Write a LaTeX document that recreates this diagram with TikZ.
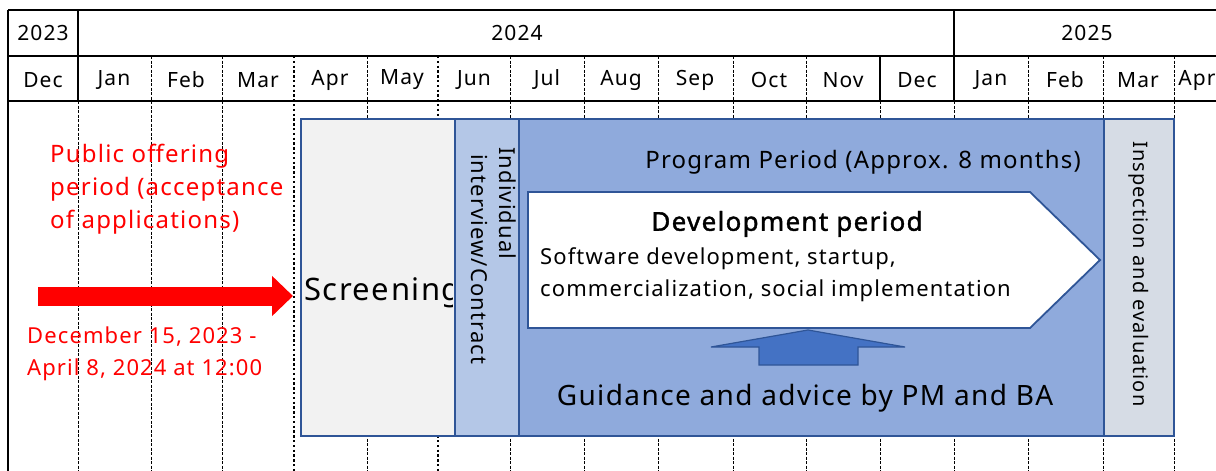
\documentclass[tikz,border=0pt]{standalone}
\usepackage{fontspec}
\setmainfont{Noto Sans}[LetterSpace=5]
\newfontfamily\fakebf{Noto Sans}[FakeBold=1.5,LetterSpace=5]
\usetikzlibrary{arrows.meta,positioning}
\definecolor{bordblue}{HTML}{2F5597}
\definecolor{scrfill}{HTML}{F2F2F2}
\definecolor{intfill}{HTML}{B4C7E7}
\definecolor{progfill}{HTML}{8FAADC}
\definecolor{inspfill}{HTML}{D6DCE5}
\definecolor{arrfill}{HTML}{4472C4}
\newcommand{\fsz}[1]{\fontsize{#1}{#1}\selectfont}

\begin{document}
\begin{tikzpicture}[x=1pt,y=-1pt,
  grid/.style={line width=1.8pt},
  mdash/.style={line width=0.8pt, dash pattern=on 3pt off 1.5pt},
  mdot/.style={line width=2.4pt, dash pattern=on 2.4pt off 2.4pt},
  phase/.style={draw=bordblue, line width=1.8pt, anchor=north west, inner sep=0pt, minimum height=317pt},
  hd/.style={font=\fsz{21}, inner sep=0pt},
  redtxt/.style={red, align=left, anchor=north west, inner sep=0pt}]
\clip (0,0) rectangle (1216,471);
% calendar grid
\foreach \x in {78,151,222,367,510,584,658,733,806,880,954,1028,1103,1174} \draw[mdash] (\x,101) -- (\x,471);
\foreach \x in {151,222,367,510,584,658,733,806,1028,1103,1174} \draw[mdash] (\x,56) -- (\x,101);
\foreach \x in {294,438} \draw[mdot] (\x,56) -- (\x,471);
\draw[grid] (78,10) -- (78,101) (880,56) -- (880,101) (954,10) -- (954,101) (8,10) -- (8,471);
\foreach \y in {10,56,101} \draw[grid] (8,\y) -- (1216,\y);
\node[hd] (y23) at (43,33) {2023};
\node[hd] (y24) at (517,33) {2024};
\node[hd] (y25) at (1087,33) {2025};
\foreach \x/\m [count=\i] in {43/Dec,114/Jan,186/Feb,258/Mar,330/Apr,402/May,474/Jun,547/Jul,621/Aug,695/Sep,769/Oct,843/Nov,917/Dec,991/Jan,1065/Feb,1138/Mar,1197/Apr}
  \node[hd] (m\i) at (\x,80) {\m};
% phases
\node[phase, fill=scrfill, minimum width=154pt] (scr) at (300,118) {};
\node[phase, fill=intfill, minimum width=64pt] (intv) at (454,118) {};
\node[phase, fill=progfill, minimum width=585pt] (prog) at (518,118) {};
\node[phase, fill=inspfill, minimum width=70pt] (insp) at (1103,118) {};
\begin{scope}
  \clip (301,119) rectangle (452,434);
  \node[anchor=west, font=\fsz{31}, inner sep=0pt] (scrtxt) at (304,293) {Screening};
\end{scope}
\node[rotate=-90, anchor=north west, align=left, font=\fontsize{22}{28}\selectfont, inner sep=0pt] (intvtxt) at (516,147) {Individual\\\hspace*{7pt}interview/Contract};
\node[rotate=-90, font=\fsz{20}, inner sep=0pt] (insptxt) at (1139,274) {Inspection and evaluation};
\node[font=\fsz{24}, inner sep=0pt] (progtxt) at (863,162) {Program Period (Approx. 8 months)};
% development arrow
\draw[fill=white, draw=bordblue, line width=1.8pt] (528,192) -- (1030,192) -- (1100,260) -- (1030,328) -- (528,328) -- cycle;
\node[font=\fakebf\fsz{26}, inner sep=0pt] (devtitle) at (787,224) {Development period};
\node[anchor=north west, align=left, font=\fontsize{22}{32}\selectfont, inner sep=0pt] (devtxt) at (540,247) {Software development, startup,\\commercialization, social implementation};
\draw[fill=arrfill, draw=bordblue, line width=1.2pt] (759,365) -- (759,347) -- (711,347) -- (808,330) -- (905,347) -- (858,347) -- (858,365) -- cycle;
\node[font=\fsz{28}, inner sep=0pt] (guide) at (805,398) {Guidance and advice by PM and BA};
% public offering
\node[redtxt, font=\fontsize{24}{33}\selectfont] (offer) at (50,144) {Public offering\\period (acceptance\\of applications)};
\coordinate (arrS) at (38,296);
\coordinate (arrE) at (293,296);
\draw[red, line width=19pt, -{Triangle[length=21pt,width=39pt]}] (arrS) -- (arrE);
\node[redtxt, font=\fontsize{22}{32}\selectfont] (dates) at (27,327) {December 15, 2023 -\\April 8, 2024 at 12:00};
\end{tikzpicture}
\end{document}
